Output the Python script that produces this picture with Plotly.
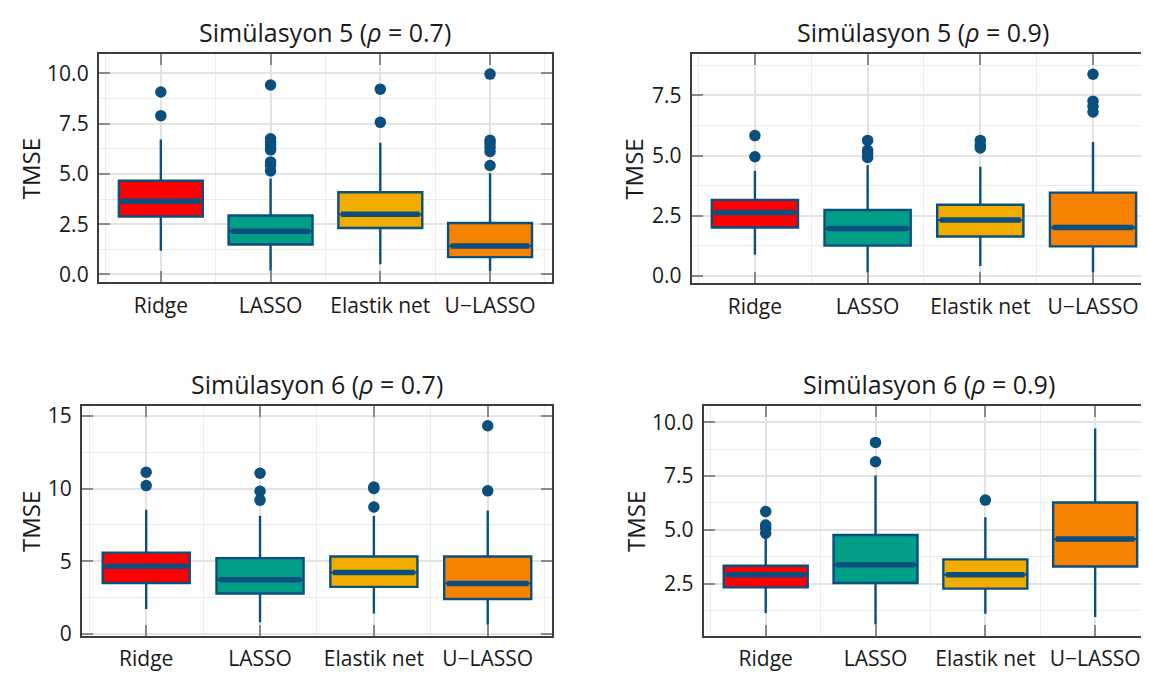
import plotly.graph_objects as go
import numpy as np

W, H = 1149, 673

categories = ["Ridge", "LASSO", "Elastik net", "U\u2212LASSO"]
box_colors = ["#FF0000", "#009E86", "#F0AD00", "#F58200"]
dark_blue = "#0B4F7E"

titles = [
    "Simülasyon 5 (<i>ρ</i> = 0.7)",
    "Simülasyon 5 (<i>ρ</i> = 0.9)",
    "Simülasyon 6 (<i>ρ</i> = 0.7)",
    "Simülasyon 6 (<i>ρ</i> = 0.9)",
]

# Simülasyon 5, rho = 0.7
s5_07_q1 = [2.88, 1.49, 2.31, 0.86]
s5_07_med = [3.64, 2.15, 2.99, 1.41]
s5_07_q3 = [4.66, 2.93, 4.09, 2.56]
s5_07_lo = [1.18, 0.18, 0.50, 0.16]
s5_07_hi = [6.72, 4.77, 6.55, 5.03]
s5_07_out = [[9.08, 7.90],
             [9.43, 6.75, 6.60, 6.45, 6.30, 6.20, 5.60, 5.45, 5.15],
             [9.22, 7.57],
             [9.97, 6.68, 6.52, 6.33, 6.12, 5.42]]

# Simülasyon 5, rho = 0.9
s5_09_q1 = [2.01, 1.26, 1.64, 1.23]
s5_09_med = [2.64, 1.97, 2.32, 2.01]
s5_09_q3 = [3.16, 2.74, 2.96, 3.46]
s5_09_lo = [0.88, 0.14, 0.41, 0.14]
s5_09_hi = [4.37, 4.60, 4.54, 5.56]
s5_09_out = [[5.83, 4.95],
             [5.63, 5.22, 5.09, 4.92],
             [5.63, 5.43, 5.32],
             [8.38, 7.26, 7.05, 6.81]]

# Simülasyon 6, rho = 0.7
s6_07_q1 = [3.50, 2.77, 3.23, 2.39]
s6_07_med = [4.65, 3.72, 4.22, 3.47]
s6_07_q3 = [5.59, 5.21, 5.32, 5.32]
s6_07_lo = [1.71, 0.79, 1.40, 0.63]
s6_07_hi = [8.53, 8.12, 8.10, 8.48]
s6_07_out = [[11.12, 10.20],
             [11.05, 9.81, 9.20],
             [10.10, 10.00, 8.73],
             [14.32, 9.84]]

# Simülasyon 6, rho = 0.9
s6_09_q1 = [2.33, 2.53, 2.27, 3.30]
s6_09_med = [2.91, 3.38, 2.92, 4.57]
s6_09_q3 = [3.33, 4.76, 3.63, 6.27]
s6_09_lo = [1.14, 0.61, 1.10, 0.95]
s6_09_hi = [4.70, 7.52, 5.59, 9.71]
s6_09_out = [[5.85, 5.22, 5.07, 4.84],
             [9.06, 8.16],
             [6.38],
             []]

panels = [
    (s5_07_q1, s5_07_med, s5_07_q3, s5_07_lo, s5_07_hi, s5_07_out),
    (s5_09_q1, s5_09_med, s5_09_q3, s5_09_lo, s5_09_hi, s5_09_out),
    (s6_07_q1, s6_07_med, s6_07_q3, s6_07_lo, s6_07_hi, s6_07_out),
    (s6_09_q1, s6_09_med, s6_09_q3, s6_09_lo, s6_09_hi, s6_09_out),
]

# layout (pixel frames of each panel: left, right, top, bottom)
frames = [(91, 545, 42, 276), (685, 1149, 42, 277), (74, 545, 403, 638), (697, 1149, 403, 638)]
ylabel_x = [22, 627, 22, 628]
x_ranges = [[-0.565, 3.565], [-0.56, 3.55], [-0.565, 3.565], [-0.564, 3.545]]
y_ranges = [[-0.40, 10.97], [-0.31, 9.22], [-0.14, 15.65], [0.08, 10.73]]
y_dticks = [2.5, 2.5, 5, 2.5]
y_formats = [".1f", ".1f", "d", ".1f"]

box_width = 0.765
pos = np.arange(len(categories))

fig = go.Figure()
font_family = "Open Sans"

for p, (q1, med, q3, lo, hi, outs) in enumerate(panels):
    xa = "x" if p == 0 else f"x{p+1}"
    ya = "y" if p == 0 else f"y{p+1}"
    for i, cat in enumerate(categories):
        fig.add_trace(go.Box(
            x=[pos[i]], q1=[q1[i]], median=[med[i]], q3=[q3[i]],
            lowerfence=[lo[i]], upperfence=[hi[i]],
            width=box_width, fillcolor=box_colors[i], whiskerwidth=0,
            line=dict(color=dark_blue, width=2.4),
            boxpoints=False, showlegend=False, xaxis=xa, yaxis=ya,
            hoverinfo="skip"))
        # thick median bar
        fig.add_trace(go.Box(
            x=[pos[i]], q1=[med[i]], median=[med[i]], q3=[med[i]],
            lowerfence=[med[i]], upperfence=[med[i]],
            width=box_width - 0.05, fillcolor="rgba(0,0,0,0)", whiskerwidth=0,
            line=dict(color=dark_blue, width=5.5),
            boxpoints=False, showlegend=False, xaxis=xa, yaxis=ya,
            hoverinfo="skip"))
        if outs[i]:
            fig.add_trace(go.Scatter(
                x=[pos[i]] * len(outs[i]), y=outs[i], mode="markers",
                marker=dict(color=dark_blue, size=11.5, line=dict(width=0)),
                showlegend=False, xaxis=xa, yaxis=ya, hoverinfo="skip"))

layout = dict(
    width=W, height=H,
    margin=dict(l=0, r=0, t=0, b=0),
    paper_bgcolor="white", plot_bgcolor="white",
    font=dict(family=font_family, color="#1a1a1a"),
    boxmode="overlay",
    showlegend=False,
)

annotations = []
for p in range(4):
    l, r, t, b = frames[p]
    xkey = "xaxis" if p == 0 else f"xaxis{p+1}"
    ykey = "yaxis" if p == 0 else f"yaxis{p+1}"
    yref = "y" if p == 0 else f"y{p+1}"
    xref = "x" if p == 0 else f"x{p+1}"
    layout[xkey] = dict(
        domain=[l / W, min(r / W, 1.0)], anchor=yref,
        range=x_ranges[p], tickmode="array", tickvals=list(pos), ticktext=categories,
        showline=True, linecolor="#3d3d3d", linewidth=2, mirror="ticks",
        ticks="inside", ticklen=11, tickwidth=2, tickcolor="#8a8a8a",
        showgrid=True, gridcolor="#e3e3e3", gridwidth=1.5,
        minor=dict(tickmode="array", tickvals=list(pos - 0.5) + [pos[-1] + 0.5],
                   showgrid=True, gridcolor="#ececec", gridwidth=1, ticks=""),
        tickfont=dict(size=21, color="#1a1a1a"), zeroline=False,
        ticklabelstandoff=3,
    )
    layout[ykey] = dict(
        domain=[1 - b / H, 1 - t / H], anchor=xref,
        range=y_ranges[p], dtick=y_dticks[p], tick0=0, tickformat=y_formats[p],
        showline=True, linecolor="#3d3d3d", linewidth=2, mirror="ticks",
        ticks="inside", ticklen=11, tickwidth=2, tickcolor="#8a8a8a",
        showgrid=True, gridcolor="#e3e3e3", gridwidth=1.5,
        minor=dict(dtick=y_dticks[p] / 2, tick0=0, showgrid=True,
                   gridcolor="#ececec", gridwidth=1, ticks=""),
        tickfont=dict(size=21, color="#1a1a1a"), zeroline=False,
        ticklabelstandoff=4,
    )
    annotations.append(dict(
        text=titles[p], x=(l + min(r, 1150)) / 2 / W, y=1 - (t - 23) / H,
        xref="paper", yref="paper", xanchor="center", yanchor="middle",
        showarrow=False, font=dict(size=25, color="#1a1a1a", family=font_family)))
    annotations.append(dict(
        text="TMSE", x=ylabel_x[p] / W,
        y=1 - ((t + b) / 2) / H,
        xref="paper", yref="paper", xanchor="center", yanchor="middle",
        textangle=-90, showarrow=False,
        font=dict(size=24, color="#1a1a1a", family=font_family)))

layout["annotations"] = annotations
fig.update_layout(**layout)
fig.write_html("out.html")
